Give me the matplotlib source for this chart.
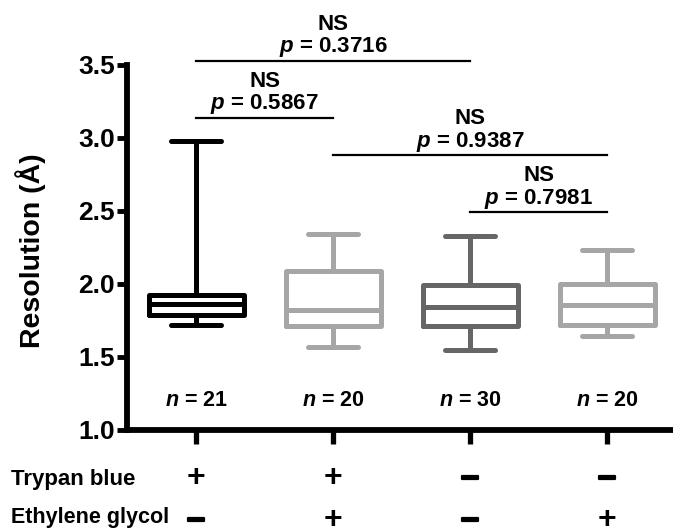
import matplotlib
matplotlib.use('Agg')
import matplotlib.pyplot as plt
import matplotlib.transforms as mtransforms
import matplotlib.patheffects as pe

plt.rcParams['font.family'] = ['Liberation Sans', 'DejaVu Sans']
plt.rcParams['font.weight'] = 'bold'
plt.rcParams['axes.labelweight'] = 'bold'
plt.rcParams['mathtext.fontset'] = 'custom'
plt.rcParams['mathtext.it'] = 'Liberation Sans:italic:bold'
plt.rcParams['mathtext.rm'] = 'Liberation Sans:bold'

# box statistics
groups = [1, 2, 3, 4]
whislo = [1.72, 1.57, 1.55, 1.64]
q1 = [1.79, 1.71, 1.71, 1.72]
med = [1.86, 1.82, 1.84, 1.855]
q3 = [1.925, 2.09, 1.99, 2.00]
whishi = [2.98, 2.34, 2.33, 2.23]
n_labels = ['21', '20', '30', '20']
colors = ['#000000', '#a6a6a6', '#666666', '#a6a6a6']

trypan = ['+', '+', '-', '-']
glycol = ['-', '+', '-', '+']

# comparisons: (left group, right group, bar height, p value)
comparisons = [
    (1, 3, 3.53, '0.3716'),
    (1, 2, 3.137, '0.5867'),
    (2, 4, 2.88, '0.9387'),
    (3, 4, 2.49, '0.7981'),
]

fig = plt.figure(figsize=(6.73, 5.28), dpi=100)
ax = fig.add_axes([0.189, 0.186, 0.811, 0.691])

for i, g in enumerate(groups):
    stats = [dict(whislo=whislo[i], q1=q1[i], med=med[i], q3=q3[i], whishi=whishi[i])]
    c = colors[i]
    lp = dict(color=c, linewidth=3.6, solid_capstyle='round', solid_joinstyle='round')
    ax.bxp(stats, positions=[g], widths=0.69, capwidths=0.365, showfliers=False,
           boxprops=lp, whiskerprops=lp, capprops=lp, medianprops=lp,
           manage_ticks=False)
    ax.text(g, 1.2, r'$n$ = ' + n_labels[i], ha='center', va='center', fontsize=15.5)

for a, b, y, p in comparisons:
    ax.plot([a, b], [y, y], color='black', linewidth=1.6, clip_on=False)
    xm = (a + b) / 2
    ax.text(xm, y + 0.092, r'$p$ = ' + p, ha='center', va='center', fontsize=16, clip_on=False)
    ax.text(xm, y + 0.25, 'NS', ha='center', va='center', fontsize=16, clip_on=False)

ax.set_xlim(0.496, 4.48)
ax.set_ylim(1.0, 3.5)
ax.set_yticks([1.0, 1.5, 2.0, 2.5, 3.0, 3.5])
ax.set_yticklabels(['1.0', '1.5', '2.0', '2.5', '3.0', '3.5'], fontsize=19)
ax.set_xticks(groups)
ax.set_xticklabels([])
ax.tick_params(axis='y', length=7, width=3.5, pad=2)
ax.tick_params(axis='x', length=10, width=3.8)
for s in ['top', 'right']:
    ax.spines[s].set_visible(False)
for s in ['left', 'bottom']:
    ax.spines[s].set_linewidth(4.2)
ax.set_ylabel('Resolution (\u00c5)', fontsize=20.5)
ax.yaxis.set_label_coords(-0.148, 0.49)

trans = mtransforms.blended_transform_factory(ax.transData, fig.transFigure)
fig.text(11 / 673, 1 - 479 / 528, 'Trypan blue', ha='left', va='center', fontsize=16)
fig.text(11 / 673, 1 - 517 / 528, 'Ethylene glycol', ha='left', va='center', fontsize=15.5)
thick = [pe.withStroke(linewidth=1.6, foreground='black')]
for i, g in enumerate(groups):
    for sign, ypix in [(trypan[i], 478), (glycol[i], 520)]:
        if sign == '+':
            ax.text(g, 1 - ypix / 528, '+', transform=trans, ha='center', va='center',
                    fontsize=23)
        else:
            ax.text(g, 1 - ypix / 528, '\u2013', transform=trans, ha='center', va='center',
                    fontsize=23, path_effects=thick)

fig.savefig('out.png', dpi=100)
